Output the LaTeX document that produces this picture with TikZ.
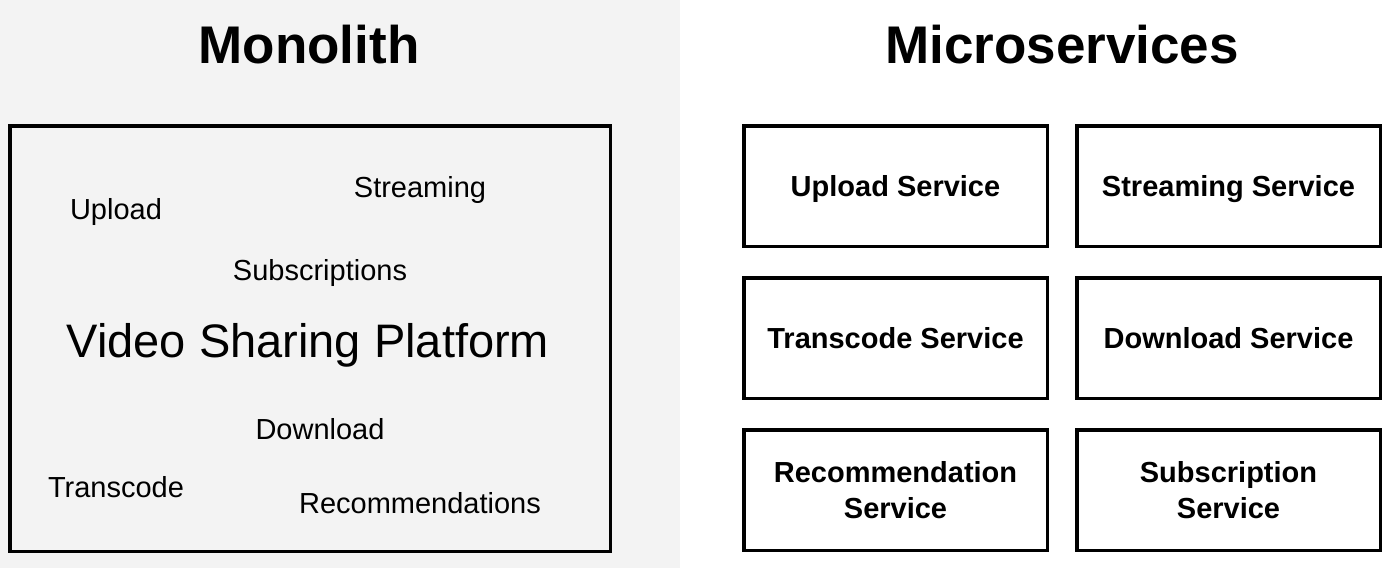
\documentclass[tikz,border=0pt]{standalone}
\usepackage{fontspec}
\setmainfont{Liberation Sans}
\usetikzlibrary{positioning}
\definecolor{monobg}{HTML}{F3F3F3}
\newcommand{\titlefont}{\fontsize{53}{60}\selectfont\bfseries}
\newcommand{\bigfont}{\fontsize{47}{54}\selectfont}
\newcommand{\labelfont}{\fontsize{29}{36}\selectfont}

\begin{document}
\begin{tikzpicture}[x=1pt,y=-1pt,
        svc/.style={draw, rectangle, line width=3.5pt, minimum width=303.5pt, minimum height=120.5pt, align=center, font=\labelfont\bfseries, inner sep=0pt, text depth=0pt},
        part/.style={font=\labelfont, anchor=base, inner sep=0pt}]
        \useasboundingbox (0,0) rectangle (1393,568);
        \fill[monobg] (0,0) rectangle (680,568);

        % left side
        \node (monotitle) [font=\titlefont, anchor=base] at (309,63) {Monolith};
        \node (monobox) [draw, rectangle, line width=3.5pt, minimum width=600.5pt, minimum height=425.5pt] at (310,338.5) {};
        \node (upload-part) [part] at (116,219) {Upload};
        \node (stream-part) [part] at (420,197) {Streaming};
        \node (subs-part) [part] at (320,280) {Subscriptions};
        \node (platform) [font=\bigfont, anchor=base, inner sep=0pt] at (308,357) {Video Sharing Platform};
        \node (down-part) [part] at (320,439) {Download};
        \node (trans-part) [part] at (116,497) {Transcode};
        \node (rec-part) [part] at (420,513) {Recommendations};

        % right side
        \node (microtitle) [font=\titlefont, anchor=base] at (1062,63) {Microservices};
        \node (upload) [svc] at (895.5,186) {Upload Service};
        \node (streaming) [svc, right=26pt of upload] {Streaming Service};
        \node (transcode) [svc, below=28pt of upload] {Transcode Service};
        \node (download) [svc, right=26pt of transcode] {Download Service};
        \node (recommend) [svc, below=28pt of transcode] {Recommendation\\Service};
        \node (subscribe) [svc, right=26pt of recommend] {Subscription\\Service};
    \end{tikzpicture}
\end{document}
